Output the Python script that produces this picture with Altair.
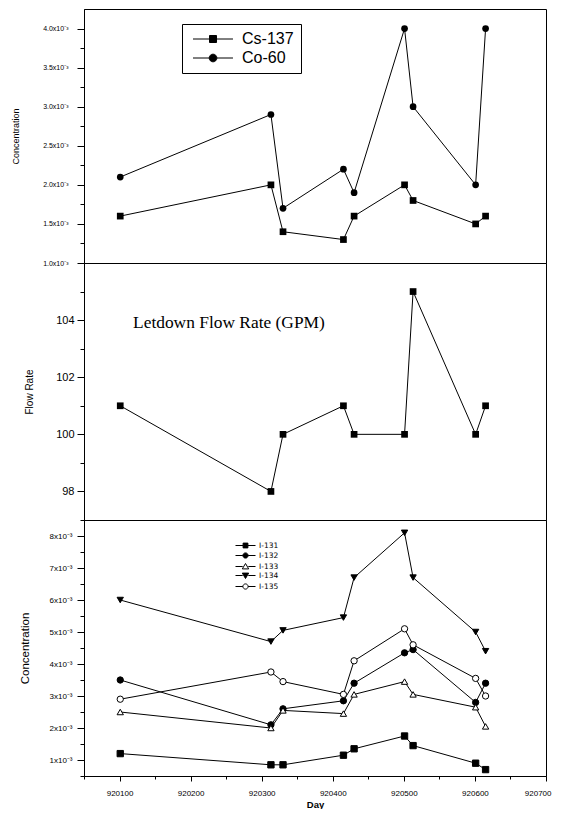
import altair as alt
import pandas as pd

# ---------------- data ----------------
days = [920101, 920313, 920330, 920415, 920430, 920501, 920513, 920601, 920615]

top_series = ["Cs-137", "Co-60"]
cs137 = [1.6e-3, 2.0e-3, 1.4e-3, 1.3e-3, 1.6e-3, 2.0e-3, 1.8e-3, 1.5e-3, 1.6e-3]
co60 = [2.1e-3, 2.9e-3, 1.7e-3, 2.2e-3, 1.9e-3, 4.0e-3, 3.0e-3, 2.0e-3, 4.0e-3]

flow = [101, 98, 100, 101, 100, 100, 105, 100, 101]

iodine_series = ["I-131", "I-132", "I-133", "I-134", "I-135"]
i131 = [1.2e-3, 0.85e-3, 0.85e-3, 1.15e-3, 1.35e-3, 1.75e-3, 1.45e-3, 0.9e-3, 0.7e-3]
i132 = [3.5e-3, 2.1e-3, 2.6e-3, 2.85e-3, 3.4e-3, 4.35e-3, 4.45e-3, 2.8e-3, 3.4e-3]
i133 = [2.5e-3, 2.0e-3, 2.55e-3, 2.45e-3, 3.05e-3, 3.45e-3, 3.05e-3, 2.65e-3, 2.05e-3]
i134 = [6.0e-3, 4.7e-3, 5.05e-3, 5.45e-3, 6.7e-3, 8.1e-3, 6.7e-3, 5.0e-3, 4.4e-3]
i135 = [2.9e-3, 3.75e-3, 3.45e-3, 3.05e-3, 4.1e-3, 5.1e-3, 4.6e-3, 3.55e-3, 3.0e-3]

note_text = ["Letdown Flow Rate (GPM)"]
note_day = [920119]
note_flow = [103.9]

x_ticks = list(range(920050, 920701, 50))
top_ticks = [1.0e-3 + 0.25e-3 * k for k in range(13)]
mid_ticks = list(range(97, 106))
bot_ticks = [0.5e-3 + 0.5e-3 * k for k in range(16)]


def long(names, arrays):
    rows = []
    for name, vals in zip(names, arrays):
        for d, v in zip(days, vals):
            rows.append({"day": d, "series": name, "value": v})
    return pd.DataFrame(rows)


top_df = long(top_series, [cs137, co60])
mid_df = pd.DataFrame({"day": days, "value": flow})
bot_df = long(iodine_series, [i131, i132, i133, i134, i135])
note_df = pd.DataFrame({"day": note_day, "value": note_flow, "label": note_text})

FONT = "Liberation Sans"
W = 462
x_scale = alt.Scale(domain=[920050, 920700], nice=False, zero=False)


def x_enc(show_axis):
    if not show_axis:
        return alt.X("day:Q", scale=x_scale, axis=None)
    return alt.X(
        "day:Q", scale=x_scale,
        axis=alt.Axis(
            values=x_ticks, title="Day", grid=False,
            labelExpr="datum.value % 100 === 0 ? format(datum.value, 'd') : ''",
            tickSize={"condition": {"test": "datum.value % 100 === 0", "value": 5}, "value": 3},
            labelFlush=True, labelFlushOffset=5, labelOverlap=False, labelFontSize=8, labelFont=FONT,
            labelColor="black", tickColor="black", domainColor="black",
            titleFont=FONT, titleFontSize=9.5, titleFontWeight="bold", titleColor="black",
            labelPadding=8, titlePadding=2,
        ),
    )


def y_axis(values, major_test, label_expr, title, title_size, title_pad, label_size, label_pad):
    return alt.Axis(
        values=values, title=title, grid=False,
        labelExpr=label_expr,
        tickSize={"condition": {"test": major_test, "value": 7}, "value": 4},
        labelOverlap=False, labelFontSize=label_size, labelFont=FONT, labelColor="black",
        tickColor="black", domainColor="black", labelPadding=label_pad,
        minExtent=50, maxExtent=50,
        titleFont=FONT, titleFontSize=title_size, titleFontWeight="normal",
        titleColor="black", titlePadding=title_pad,
    )


def legend_layer(df, names, paths, fills, legend, x, y):
    return alt.Chart(df).transform_filter("false").mark_point(
        filled=False, strokeWidth=1, opacity=1).encode(
        x=x, y=y,
        shape=alt.Shape("series:N", scale=alt.Scale(domain=names, range=paths), legend=legend),
        fill=alt.Fill("series:N", scale=alt.Scale(domain=names, range=fills), legend=legend),
        stroke=alt.Stroke("series:N", scale=alt.Scale(domain=names, range=["black"] * len(names)), legend=legend),
    )


# ---------------- top panel ----------------
top_y = alt.Y(
    "value:Q", scale=alt.Scale(domain=[1.0e-3, 4.25e-3], nice=False, zero=False),
    axis=y_axis(top_ticks, "round(datum.value * 10000) % 5 === 0",
                "round(datum.value * 10000) % 5 === 0 ? format(datum.value * 1000, '.1f') + 'x10\u207b\u00b3' : ''",
                "Concentration", 9, 14, 7, 9),
)
top_leg_paths = [
    "M-0.57,0L1.79,0M2.79,0L5.14,0M1.79,-0.5L2.79,-0.5L2.79,0.5L1.79,0.5Z",
    "M-0.57,0L1.74,0M2.84,0L5.14,0M2.84,0A0.55,0.55,0,1,1,1.74,0A0.55,0.55,0,1,1,2.84,0Z",
]
top_legend = alt.Legend(
    title=None, orient="none", legendX=98, legendY=15,
    symbolSize=196, labelOffset=37, labelFontSize=16, labelFont=FONT, labelColor="black",
    symbolStrokeWidth=1, symbolOpacity=1,
    strokeColor="black", fillColor="white", padding=7, rowPadding=3,
)
top_line = alt.Chart(top_df).mark_line(color="black", strokeWidth=1).encode(
    x=x_enc(False), y=top_y, detail="series:N")
top_pts = alt.Chart(top_df).mark_point(filled=True, color="black", size=45, opacity=1).encode(
    x=x_enc(False), y=top_y,
    shape=alt.Shape("series:N", scale=alt.Scale(domain=top_series, range=["square", "circle"]), legend=None))
top_leg = legend_layer(top_df, top_series, top_leg_paths, ["black", "black"], top_legend, x_enc(False), top_y)
top = alt.layer(top_line, top_pts, top_leg).resolve_scale(
    shape="independent", fill="independent", stroke="independent").properties(width=W, height=254)

# ---------------- middle panel ----------------
mid_y = alt.Y(
    "value:Q", scale=alt.Scale(domain=[97, 106], nice=False, zero=False),
    axis=y_axis(mid_ticks, "datum.value % 2 === 0",
                "datum.value % 2 === 0 ? format(datum.value, 'd') : ''",
                "Flow Rate", 10, 0, 11, 3),
)
mid_line = alt.Chart(mid_df).mark_line(color="black", strokeWidth=1).encode(x=x_enc(False), y=mid_y)
mid_pts = alt.Chart(mid_df).mark_point(filled=True, color="black", shape="square", size=45, opacity=1).encode(
    x=x_enc(False), y=mid_y)
mid_note = alt.Chart(note_df).mark_text(
    font="Liberation Serif", fontSize=17.4, align="left", baseline="middle", color="black").encode(
    x=x_enc(False), y=mid_y, text="label:N")
mid = alt.layer(mid_line, mid_pts, mid_note).properties(width=W, height=257)

# ---------------- bottom panel ----------------
bot_y = alt.Y(
    "value:Q", scale=alt.Scale(domain=[0.5e-3, 8.5e-3], nice=False, zero=False),
    axis=y_axis(bot_ticks, "round(datum.value * 2000) % 2 === 0",
                "round(datum.value * 2000) % 2 === 0 ? format(round(datum.value * 1000), 'd') + 'x10\u207b\u00b3' : ''",
                "Concentration", 11.5, 4, 8, 5),
)
bot_shapes = ["square", "circle", "triangle-up", "triangle-down", "circle"]
bot_fills = ["black", "black", "white", "black", "white"]
bot_leg_paths = [
    "M-1,0L0.9,0M2.1,0L4,0M0.9,-0.6L2.1,-0.6L2.1,0.6L0.9,0.6Z",
    "M-1,0L0.85,0M2.15,0L4,0M2.15,0A0.65,0.65,0,1,1,0.85,0A0.65,0.65,0,1,1,2.15,0Z",
    "M-1,0L0.8,0M2.2,0L4,0M1.5,-0.75L2.3,0.6L0.7,0.6Z",
    "M-1,0L0.8,0M2.2,0L4,0M1.5,0.75L2.3,-0.6L0.7,-0.6Z",
    "M-1,0L0.85,0M2.15,0L4,0M2.15,0A0.65,0.65,0,1,1,0.85,0A0.65,0.65,0,1,1,2.15,0Z",
]
bot_legend = alt.Legend(
    title=None, orient="none", legendX=151, legendY=21,
    symbolSize=64, labelOffset=15, labelFontSize=7.5, labelFont="DejaVu Sans", labelColor="black",
    symbolStrokeWidth=1, symbolOpacity=1,
    padding=0, rowPadding=0,
)
bot_line = alt.Chart(bot_df).mark_line(color="black", strokeWidth=1).encode(
    x=x_enc(True), y=bot_y, detail="series:N")
bot_pts = alt.Chart(bot_df).mark_point(filled=True, stroke="black", strokeWidth=1, size=40, opacity=1).encode(
    x=x_enc(True), y=bot_y,
    shape=alt.Shape("series:N", scale=alt.Scale(domain=iodine_series, range=bot_shapes), legend=None),
    fill=alt.Fill("series:N", scale=alt.Scale(domain=iodine_series, range=bot_fills), legend=None),
)
bot_leg = legend_layer(bot_df, iodine_series, bot_leg_paths, bot_fills, bot_legend, x_enc(True), bot_y)
bot = alt.layer(bot_line, bot_pts, bot_leg).resolve_scale(
    shape="independent", fill="independent", stroke="independent").properties(width=W, height=256)

chart = alt.vconcat(top, mid, bot, spacing=0, bounds="flush").resolve_scale(
    y="independent", shape="independent", fill="independent", stroke="independent"
).resolve_legend(shape="independent", fill="independent", stroke="independent").properties(
    padding={"left": 2, "top": 0, "right": 0, "bottom": 0},
    background="white",
).configure_view(stroke="black", strokeWidth=1)

chart.save("out.html", embed_options={"renderer": "svg", "actions": False})
